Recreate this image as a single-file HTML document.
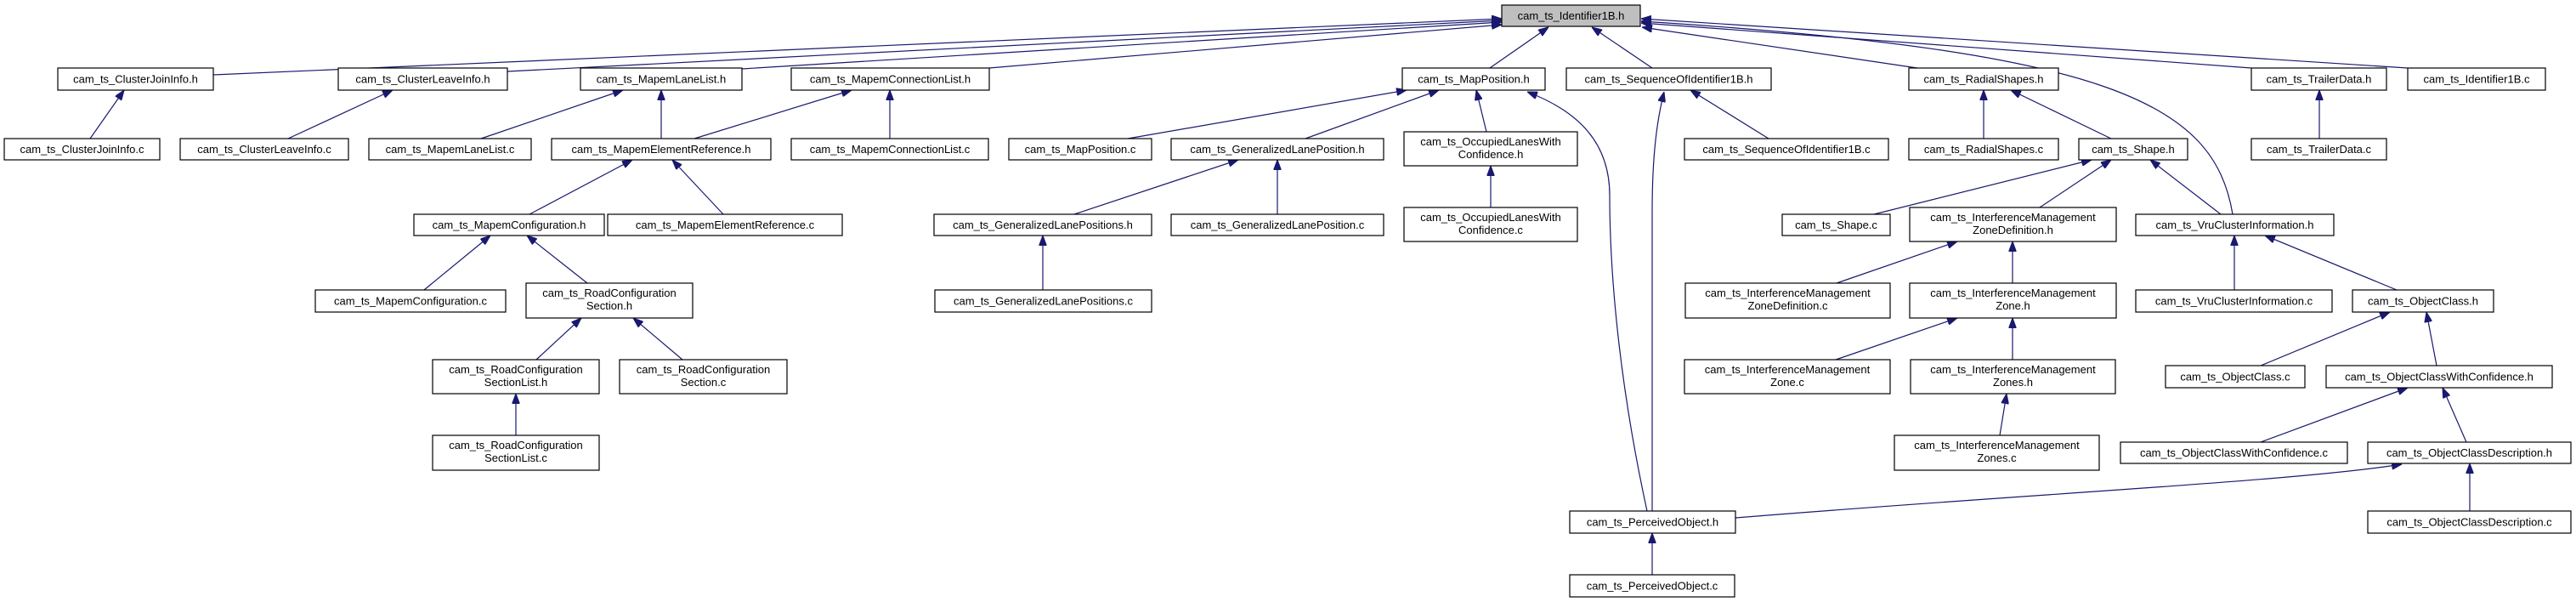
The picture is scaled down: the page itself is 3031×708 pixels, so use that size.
<!DOCTYPE html>
<html><head><meta charset="utf-8">
<style>
html,body{margin:0;padding:0;background:#fff;}
svg{display:block;}
rect{fill:#fff;stroke:#000;stroke-width:1.2;}
text{font-family:"Liberation Sans",sans-serif;font-size:13px;fill:#000;text-anchor:middle;}
path.e{fill:none;stroke:#191970;stroke-width:1.2;}
</style></head><body>
<svg width="3031" height="708" viewBox="0 0 3031 708" xmlns="http://www.w3.org/2000/svg">
<defs><marker id="a" markerUnits="userSpaceOnUse" markerWidth="12" markerHeight="9" refX="12" refY="4.5" orient="auto"><path d="M0,0 L12,4.5 L0,9 z" fill="#191970" stroke="#191970"/></marker></defs>
<g>
<path class="e" marker-end="url(#a)" d="M251,88 L1767,22"/>
<path class="e" marker-end="url(#a)" d="M597,84 L1767,24"/>
<path class="e" marker-end="url(#a)" d="M873,81 L1767,26"/>
<path class="e" marker-end="url(#a)" d="M1164,80 L1767,29"/>
<path class="e" marker-end="url(#a)" d="M2256,80 L1932,32"/>
<path class="e" marker-end="url(#a)" d="M2649,80 L1931,27"/>
<path class="e" marker-end="url(#a)" d="M2833,80 L1931,22"/>
<path class="e" marker-end="url(#a)" d="M2627,252 C2605,120 2480,60 1931,25"/>
<path class="e" marker-end="url(#a)" d="M1753,80 L1822,32"/>
<path class="e" marker-end="url(#a)" d="M1944,80 L1873,32"/>
<path class="e" marker-end="url(#a)" d="M106,163 L146,106"/>
<path class="e" marker-end="url(#a)" d="M339,163 L462,106"/>
<path class="e" marker-end="url(#a)" d="M566,163 L733,106"/>
<path class="e" marker-end="url(#a)" d="M778,163 L778,106"/>
<path class="e" marker-end="url(#a)" d="M817,163 L1002,106"/>
<path class="e" marker-end="url(#a)" d="M1047,163 L1047,106"/>
<path class="e" marker-end="url(#a)" d="M1327,163 L1655,106"/>
<path class="e" marker-end="url(#a)" d="M1536,163 L1693,106"/>
<path class="e" marker-end="url(#a)" d="M1749,155 L1737,106"/>
<path class="e" marker-end="url(#a)" d="M623,252 L744,188"/>
<path class="e" marker-end="url(#a)" d="M851,252 L791,188"/>
<path class="e" marker-end="url(#a)" d="M1264,252 L1457,188"/>
<path class="e" marker-end="url(#a)" d="M1503,252 L1503,188"/>
<path class="e" marker-end="url(#a)" d="M1754,244 L1754,195"/>
<path class="e" marker-end="url(#a)" d="M2081,163 L1989,106"/>
<path class="e" marker-end="url(#a)" d="M2334,163 L2334,106"/>
<path class="e" marker-end="url(#a)" d="M2484,163 L2366,106"/>
<path class="e" marker-end="url(#a)" d="M2729,163 L2729,106"/>
<path class="e" marker-end="url(#a)" d="M2205,252 L2461,188"/>
<path class="e" marker-end="url(#a)" d="M2400,244 L2484,188"/>
<path class="e" marker-end="url(#a)" d="M2613,252 L2530,188"/>
<path class="e" marker-end="url(#a)" d="M499,341 L577,277"/>
<path class="e" marker-end="url(#a)" d="M691,333 L620,277"/>
<path class="e" marker-end="url(#a)" d="M1227,341 L1227,277"/>
<path class="e" marker-end="url(#a)" d="M2161,333 L2303,284"/>
<path class="e" marker-end="url(#a)" d="M2368,333 L2368,284"/>
<path class="e" marker-end="url(#a)" d="M2629,341 L2629,277"/>
<path class="e" marker-end="url(#a)" d="M2820,341 L2665,277"/>
<path class="e" marker-end="url(#a)" d="M631,423 L684,374"/>
<path class="e" marker-end="url(#a)" d="M803,423 L745,374"/>
<path class="e" marker-end="url(#a)" d="M2160,423 L2303,374"/>
<path class="e" marker-end="url(#a)" d="M2368,423 L2368,374"/>
<path class="e" marker-end="url(#a)" d="M2660,430 L2812,367"/>
<path class="e" marker-end="url(#a)" d="M2867,430 L2855,367"/>
<path class="e" marker-end="url(#a)" d="M607,512 L607,463"/>
<path class="e" marker-end="url(#a)" d="M2353,512 L2361,463"/>
<path class="e" marker-end="url(#a)" d="M2660,520 L2833,456"/>
<path class="e" marker-end="url(#a)" d="M2902,520 L2874,456"/>
<path class="e" marker-end="url(#a)" d="M2906,601 L2906,545"/>
<path class="e" marker-end="url(#a)" d="M1944,676 L1944,627"/>
<path class="e" marker-end="url(#a)" d="M1938,601 C1905,450 1894,320 1894,230 C1894,170 1860,132 1797,108"/>
<path class="e" marker-end="url(#a)" d="M1944,601 L1944,250 C1944,180 1950,140 1958,108"/>
<path class="e" marker-end="url(#a)" d="M2042,609 C2400,580 2700,566 2826,546"/>
</g>
<g>
<rect x="1767" y="6" width="163" height="25" style="fill:#bfbfbf"/><text x="1848.5" y="23">cam_ts_Identifier1B.h</text>
<rect x="68" y="80" width="183" height="26"/><text x="159.5" y="97.5">cam_ts_ClusterJoinInfo.h</text>
<rect x="398" y="80" width="199" height="26"/><text x="497.5" y="97.5">cam_ts_ClusterLeaveInfo.h</text>
<rect x="683" y="80" width="190" height="26"/><text x="778" y="97.5">cam_ts_MapemLaneList.h</text>
<rect x="931" y="80" width="233" height="26"/><text x="1047.5" y="97.5">cam_ts_MapemConnectionList.h</text>
<rect x="1650" y="80" width="168" height="26"/><text x="1734" y="97.5">cam_ts_MapPosition.h</text>
<rect x="1843" y="80" width="241" height="26"/><text x="1963.5" y="97.5">cam_ts_SequenceOfIdentifier1B.h</text>
<rect x="2246" y="80" width="176" height="26"/><text x="2334" y="97.5">cam_ts_RadialShapes.h</text>
<rect x="2649" y="80" width="159" height="26"/><text x="2728.5" y="97.5">cam_ts_TrailerData.h</text>
<rect x="2833" y="80" width="162" height="26"/><text x="2914" y="97.5">cam_ts_Identifier1B.c</text>

<rect x="5" y="163" width="183" height="25"/><text x="96.5" y="180">cam_ts_ClusterJoinInfo.c</text>
<rect x="212" y="163" width="198" height="25"/><text x="311" y="180">cam_ts_ClusterLeaveInfo.c</text>
<rect x="434" y="163" width="191" height="25"/><text x="529.5" y="180">cam_ts_MapemLaneList.c</text>
<rect x="649" y="163" width="258" height="25"/><text x="778" y="180">cam_ts_MapemElementReference.h</text>
<rect x="931" y="163" width="232" height="25"/><text x="1047" y="180">cam_ts_MapemConnectionList.c</text>
<rect x="1187" y="163" width="168" height="25"/><text x="1271" y="180">cam_ts_MapPosition.c</text>
<rect x="1378" y="163" width="250" height="25"/><text x="1503" y="180">cam_ts_GeneralizedLanePosition.h</text>
<rect x="1652" y="155" width="204" height="40"/><text x="1754" y="171">cam_ts_OccupiedLanesWith</text><text x="1754" y="186">Confidence.h</text>
<rect x="1982" y="163" width="240" height="25"/><text x="2102" y="180">cam_ts_SequenceOfIdentifier1B.c</text>
<rect x="2246" y="163" width="176" height="25"/><text x="2334" y="180">cam_ts_RadialShapes.c</text>
<rect x="2446" y="163" width="128" height="25"/><text x="2510" y="180">cam_ts_Shape.h</text>
<rect x="2649" y="163" width="159" height="25"/><text x="2728.5" y="180">cam_ts_TrailerData.c</text>

<rect x="487" y="252" width="224" height="25"/><text x="599" y="269">cam_ts_MapemConfiguration.h</text>
<rect x="715" y="252" width="276" height="25"/><text x="853" y="269">cam_ts_MapemElementReference.c</text>
<rect x="1099" y="252" width="256" height="25"/><text x="1227" y="269">cam_ts_GeneralizedLanePositions.h</text>
<rect x="1378" y="252" width="250" height="25"/><text x="1503" y="269">cam_ts_GeneralizedLanePosition.c</text>
<rect x="1652" y="244" width="204" height="40"/><text x="1754" y="260">cam_ts_OccupiedLanesWith</text><text x="1754" y="275">Confidence.c</text>
<rect x="2097" y="252" width="127" height="25"/><text x="2160.5" y="269">cam_ts_Shape.c</text>
<rect x="2247" y="244" width="243" height="40"/><text x="2368.5" y="260">cam_ts_InterferenceManagement</text><text x="2368.5" y="275">ZoneDefinition.h</text>
<rect x="2513" y="252" width="233" height="25"/><text x="2629.5" y="269">cam_ts_VruClusterInformation.h</text>

<rect x="371" y="341" width="224" height="26"/><text x="483" y="358.5">cam_ts_MapemConfiguration.c</text>
<rect x="619" y="333" width="196" height="41"/><text x="717" y="349">cam_ts_RoadConfiguration</text><text x="717" y="364">Section.h</text>
<rect x="1100" y="341" width="255" height="26"/><text x="1227.5" y="358.5">cam_ts_GeneralizedLanePositions.c</text>
<rect x="1983" y="333" width="241" height="41"/><text x="2103.5" y="349">cam_ts_InterferenceManagement</text><text x="2103.5" y="364">ZoneDefinition.c</text>
<rect x="2247" y="333" width="243" height="41"/><text x="2368.5" y="349">cam_ts_InterferenceManagement</text><text x="2368.5" y="364">Zone.h</text>
<rect x="2513" y="341" width="231" height="26"/><text x="2628.5" y="358.5">cam_ts_VruClusterInformation.c</text>
<rect x="2768" y="341" width="166" height="26"/><text x="2851" y="358.5">cam_ts_ObjectClass.h</text>

<rect x="509" y="423" width="196" height="40"/><text x="607" y="439">cam_ts_RoadConfiguration</text><text x="607" y="454">SectionList.h</text>
<rect x="729" y="423" width="197" height="40"/><text x="827.5" y="439">cam_ts_RoadConfiguration</text><text x="827.5" y="454">Section.c</text>
<rect x="1982" y="423" width="242" height="40"/><text x="2103" y="439">cam_ts_InterferenceManagement</text><text x="2103" y="454">Zone.c</text>
<rect x="2248" y="423" width="241" height="40"/><text x="2368.5" y="439">cam_ts_InterferenceManagement</text><text x="2368.5" y="454">Zones.h</text>
<rect x="2548" y="430" width="164" height="26"/><text x="2630" y="447.5">cam_ts_ObjectClass.c</text>
<rect x="2737" y="430" width="266" height="26"/><text x="2870" y="447.5">cam_ts_ObjectClassWithConfidence.h</text>

<rect x="509" y="512" width="196" height="41"/><text x="607" y="528">cam_ts_RoadConfiguration</text><text x="607" y="543">SectionList.c</text>
<rect x="2229" y="512" width="241" height="41"/><text x="2349.5" y="528">cam_ts_InterferenceManagement</text><text x="2349.5" y="543">Zones.c</text>
<rect x="2495" y="520" width="267" height="25"/><text x="2628.5" y="537">cam_ts_ObjectClassWithConfidence.c</text>
<rect x="2786" y="520" width="239" height="25"/><text x="2905.5" y="537">cam_ts_ObjectClassDescription.h</text>

<rect x="1847" y="601" width="195" height="26"/><text x="1944.5" y="618.5">cam_ts_PerceivedObject.h</text>
<rect x="2786" y="601" width="239" height="26"/><text x="2905.5" y="618.5">cam_ts_ObjectClassDescription.c</text>
<rect x="1847" y="676" width="194" height="26"/><text x="1944" y="693.5">cam_ts_PerceivedObject.c</text>
</g>
</svg>
</body></html>
